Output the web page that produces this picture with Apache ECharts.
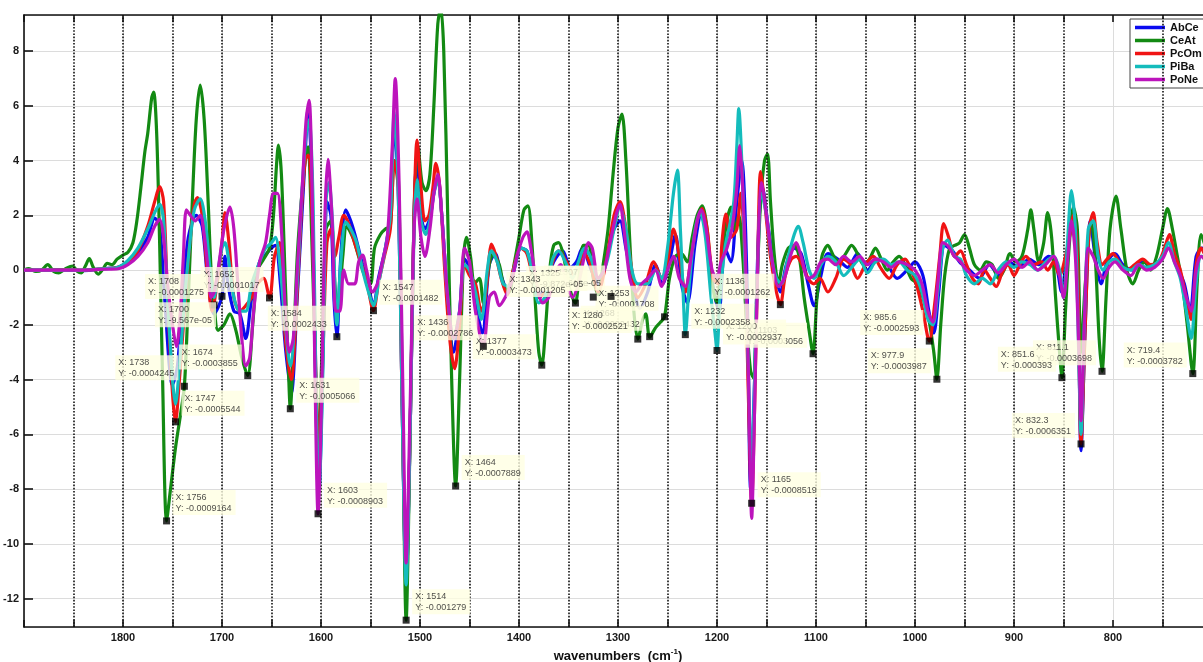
<!DOCTYPE html>
<html>
<head>
<meta charset="utf-8">
<script src="https://cdn.jsdelivr.net/npm/echarts@6/dist/echarts.min.js"></script>
<style>
  html, body { margin: 0; padding: 0; background: #fff; }
  #chart { width: 1203px; height: 662px; }
</style>
</head>
<body>
<div id="chart"></div>
<script>
// Second-derivative FTIR spectra (scaled by 1e4) for five samples.
const seriesNames = ['AbCe', 'CeAt', 'PcOm', 'PiBa', 'PoNe'];
const seriesColors = ['#0a0af0', '#138a13', '#f01414', '#14bcbc', '#bc14bc'];

// [wavenumber (cm-1), value x 1e4]
const AbCe = [[1900,0],[1880,0],[1860,0.02],[1840,-0.02],[1820,0.05],[1805,0.1],[1795,0.3],[1785,0.6],[1775,1.2],[1768,1.9],[1763,1.6],[1758,-1],[1750,-4.2],[1745,-3.5],[1740,-1],[1734,1.2],[1726,2.0],[1720,1.6],[1714,-0.5],[1708,-1.6],[1700,-0.9567],[1697,0.5],[1694,-0.5],[1688,-1.5],[1682,-1.6],[1676,-2.5],[1670,-1],[1662,0.3],[1655,0.6],[1650,0.8],[1646,0.9],[1641,-0.5],[1636,-2.8],[1630,-4.5],[1624,-1],[1617,3.5],[1613,5.9],[1609,3],[1605,-5],[1602,-8],[1598,-3],[1594,2.5],[1590,2],[1587,-1],[1584,-2.433],[1580,0.5],[1575,2.2],[1570,1.8],[1565,1.2],[1558,0.2],[1552,-0.6],[1547,-1.3],[1542,-0.3],[1535,0.8],[1530,2],[1526,5.3],[1522,3],[1518,-5],[1514,-11.5],[1510,-6],[1506,2],[1503,4.3],[1499,2],[1495,1.5],[1490,1.9],[1486,2.8],[1482,3.4],[1478,2],[1472,-1],[1466,-3],[1460,-1.5],[1455,0.4],[1450,0.1],[1444,-1.2],[1437,-2.3],[1430,0.2],[1424,0.6],[1418,-0.2],[1412,-0.7],[1405,0],[1398,0.8],[1392,0.7],[1386,-0.2],[1380,-0.9],[1374,-0.7],[1365,0.3],[1356,0.7],[1348,0.1],[1342,0.3],[1336,0.8],[1328,0.1],[1320,-0.5],[1312,0.4],[1304,1.5],[1298,1.8],[1292,0.8],[1285,-0.4],[1278,-1.4],[1270,-0.8],[1262,0.2],[1255,-0.5],[1248,0.3],[1242,1.3],[1236,-0.5],[1230,-1.2],[1222,1.0],[1216,2.0],[1210,1.2],[1204,-0.6],[1198,-1.5],[1192,0.8],[1186,0.3],[1180,2.5],[1175,4.0],[1170,0],[1166,-8.0],[1162,-4],[1158,1.5],[1154,3.0],[1148,1.5],[1142,0.1],[1136,-0.8],[1130,0.2],[1122,0.8],[1115,0.6],[1108,-0.5],[1102,-1.3],[1095,-0.2],[1088,0.6],[1078,0.4],[1068,0.1],[1058,0.6],[1048,0.0],[1038,0.4],[1028,0.2],[1018,-0.3],[1008,0.0],[1000,0.3],[992,-0.2],[986,-1.5],[981,-2.3],[976,-0.8],[970,0.9],[962,0.7],[955,0.3],[945,0.0],[935,-0.3],[925,0.2],[915,-0.2],[905,0.3],[895,0.1],[885,0.4],[875,0.2],[865,0.5],[858,0.3],[852,-0.8],[846,0.8],[840,2.0],[836,0.5],[832.3,-6.6],[828,-2],[823,1.8],[818,0.5],[812,-0.5],[806,0.3],[798,0.6],[790,0.2],[780,0.0],[770,0.3],[760,0.1],[750,0.5],[744,0.8],[736,0.2],[728,-0.5],[722,-1.5],[716,0.5],[710,0.8],[700,0.3]];

const CeAt = [[1900,0],[1895,0.05],[1888,-0.05],[1882,0.0],[1876,0.2],[1870,-0.05],[1865,-0.1],[1858,0.05],[1851,0.15],[1846,-0.05],[1842,-0.1],[1838,0.15],[1834,0.42],[1830,0.1],[1825,-0.15],[1820,0.05],[1816,0.25],[1811,0.2],[1806,0.4],[1800,0.55],[1795,0.65],[1790,1.0],[1786,1.8],[1782,3.0],[1778,4.3],[1775,5.0],[1771,6.3],[1769,6.5],[1766,5.0],[1763,1],[1760,-4],[1756,-9.164],[1752,-8],[1747,-6.5],[1742,-5.3],[1738,-4.245],[1734,-1],[1730,2.5],[1726,5.5],[1722,6.76],[1718,5.5],[1714,2.5],[1711,0],[1708,-1.275],[1704,-2.2],[1698,-2.0],[1692,-1.6],[1686,-2.2],[1680,-3.2],[1674,-3.855],[1669,-2],[1664,0],[1658,0.4],[1652,0.8],[1648,2.0],[1645,3.8],[1643,4.57],[1640,3.5],[1636,-0.5],[1633,-3.5],[1631,-5.066],[1628,-3],[1624,0.5],[1620,2.5],[1616,4.0],[1613,4.5],[1610,2],[1606,-3],[1603,-6.5],[1599,-3],[1595,1.5],[1590,1.8],[1586,-0.5],[1583,-1.5],[1578,0.5],[1574,1.6],[1568,1.2],[1562,0.5],[1556,-0.2],[1550,-0.5],[1546,0.8],[1540,1.3],[1535,1.5],[1530,1.6],[1526,4],[1522,3.5],[1518,-4],[1514,-12.79],[1510,-6],[1506,2],[1502,4.5],[1498,3.2],[1494,2.9],[1490,3.5],[1486,6],[1482,9],[1479,9.6],[1476,8],[1472,2],[1468,-4],[1464,-7.889],[1460,-4],[1456,0.5],[1453,1.2],[1449,0.5],[1445,-0.5],[1440,-0.3],[1436,-1.2],[1430,0.2],[1426,0.6],[1420,0.2],[1415,-0.6],[1410,-0.8],[1405,0.2],[1400,1.2],[1395,2.2],[1391,2.35],[1387,1.0],[1383,-1.5],[1380,-3],[1377,-3.473],[1373,-2],[1369,0],[1365,0.9],[1360,1.0],[1355,0.5],[1350,-0.5],[1346,-1.0],[1343,-1.205],[1340,-0.5],[1335,0.9],[1330,0.9],[1325,-0.3],[1320,-0.9],[1315,0.2],[1310,1.5],[1305,3.5],[1300,5.2],[1296,5.7],[1292,4.0],[1288,1.0],[1284,-1.5],[1280,-2.521],[1275,-1.8],[1272,-1.6],[1268,-2.45],[1262,-2.1],[1257,-1.9],[1253,-1.708],[1248,-0.3],[1242,0.5],[1236,0.6],[1230,0.3],[1225,1.2],[1220,2.0],[1215,2.35],[1210,1.5],[1205,-0.5],[1200,-1.2],[1195,0.5],[1190,1.8],[1186,2.3],[1182,1.5],[1178,2.0],[1174,0.5],[1170,-2],[1166,-3.7],[1163,-3.95],[1160,-1],[1156,2.5],[1152,4.0],[1149,4.25],[1146,2.5],[1142,0.5],[1138,-0.5],[1134,0.2],[1128,0.8],[1122,0.9],[1117,0.5],[1112,-1.0],[1107,-2.2],[1103,-3.056],[1099,-1],[1094,0.5],[1088,0.9],[1082,0.5],[1076,0.3],[1070,0.6],[1064,0.9],[1058,0.6],[1052,0.2],[1046,0.4],[1040,0.8],[1034,0.4],[1028,0.0],[1022,0.3],[1016,0.5],[1010,0.2],[1004,-0.3],[998,-0.5],[992,-1.0],[986,-1.8],[981,-3.0],[977.9,-3.987],[974,-2.0],[970,-0.2],[965,0.8],[960,0.9],[955,1.0],[950,1.3],[945,0.8],[940,0.2],[934,0.0],[928,0.3],[922,0.2],[916,-0.3],[910,0.0],[904,0.6],[898,0.3],[892,0.5],[886,1.5],[883,2.2],[880,1.5],[875,0.3],[870,1.0],[866,2.1],[862,1.2],[858,-1.0],[854,-3.0],[851.6,-3.93],[848,-1.5],[844,1.0],[840,2.3],[836,1.5],[832.3,-3],[828,-0.5],[822,1.8],[818,0.5],[814,-2.5],[811.1,-3.698],[807,-1],[803,1.5],[797,2.7],[792,1.5],[786,0.0],[780,-0.5],[774,0.0],[768,0.3],[762,0.0],[756,0.5],[750,1.5],[745,2.25],[740,1.5],[735,0.5],[730,-0.5],[725,-2.0],[719.4,-3.782],[715,-0.5],[711,1.3],[706,0.8],[700,0.3]];

const PcOm = [[1900,0],[1880,0],[1860,0.02],[1840,0],[1820,0.05],[1805,0.1],[1795,0.3],[1785,0.7],[1775,1.6],[1768,2.5],[1763,3.05],[1759,2.5],[1755,-1],[1750,-4.5],[1747,-5.544],[1743,-4],[1738,-1.5],[1733,0.8],[1728,2.4],[1725,2.65],[1720,2.0],[1715,0],[1710,-1.5],[1705,-0.5],[1700,1.0],[1697,2.1],[1693,1.0],[1688,-1.0],[1682,-1.5],[1676,-1.3],[1670,-1.0],[1664,-0.5],[1658,-0.3],[1652,-1.017],[1647,0.5],[1642,1.0],[1636,-2.5],[1630,-4],[1625,-1.5],[1620,2.0],[1616,4.0],[1613,4.2],[1609,2],[1605,-4],[1602,-7],[1598,-3],[1594,1.0],[1590,1.5],[1586,0.5],[1582,1.2],[1577,2.0],[1572,1.7],[1566,1.0],[1560,0.3],[1554,-0.4],[1547,-1.482],[1542,-0.5],[1536,0.5],[1530,1.5],[1526,4],[1522,3],[1518,-5],[1514,-11],[1510,-6],[1506,2],[1503,4.75],[1499,3],[1495,1.8],[1491,2.0],[1487,3.0],[1484,3.9],[1480,3],[1475,0],[1470,-2.5],[1465,-3.6],[1460,-2],[1455,0.2],[1450,-0.2],[1444,-0.5],[1438,-1.5],[1434,-1.0],[1430,0.5],[1428,0.95],[1424,0.6],[1418,-0.3],[1412,-0.9],[1406,0.0],[1398,0.8],[1392,0.6],[1386,-0.3],[1380,-1.0],[1374,-0.8],[1366,0.3],[1360,0.7],[1352,0.3],[1345,-0.2],[1340,0.2],[1334,0.6],[1328,0.2],[1320,-0.8],[1312,0.3],[1304,2.0],[1298,2.5],[1292,1.5],[1286,0.0],[1280,-1.0],[1272,-0.5],[1264,0.3],[1256,-0.3],[1250,0.3],[1244,1.5],[1238,0.5],[1232,-0.8],[1226,0.5],[1220,1.8],[1215,2.25],[1210,1.5],[1204,-0.3],[1198,-0.5],[1195,1.0],[1191,2.05],[1186,1.2],[1180,1.5],[1176,2.8],[1172,0.5],[1168,-5],[1165,-8.519],[1162,-5],[1159,0],[1156,3.6],[1152,2.5],[1146,0.5],[1140,-0.8],[1136,-1.262],[1131,-0.2],[1125,0.4],[1120,0.5],[1114,0.2],[1108,-0.3],[1102,-0.5],[1096,-0.3],[1088,-0.8],[1080,-0.3],[1072,0.4],[1065,0.2],[1058,-0.3],[1050,0.2],[1042,0.5],[1035,0.1],[1026,-0.3],[1018,0.2],[1010,0.4],[1004,0.0],[998,-0.6],[992,-1.5],[985.6,-2.593],[980,-1.2],[975,0.5],[971,1.7],[966,1.2],[960,0.5],[954,0.7],[948,0.2],[942,-0.3],[936,-0.5],[930,0.0],[924,-0.3],[918,-0.6],[912,-0.1],[906,0.2],[900,-0.2],[894,0.2],[888,0.5],[880,0.2],[872,0.3],[866,0.0],[860,0.3],[854,-0.2],[848,0.5],[844,1.2],[840,2.0],[836,0.5],[832.3,-6.351],[828,-2],[824,1.5],[820,2.1],[816,1.0],[811,0.2],[806,0.4],[800,0.6],[794,0.3],[786,0.0],[778,0.2],[770,0.4],[762,0.2],[754,0.3],[748,0.8],[743,1.3],[738,0.6],[732,0.0],[726,-1.0],[721,-1.8],[716,0.2],[711,0.8],[705,0.4],[700,0.2]];

const PiBa = [[1900,0],[1880,0],[1860,0],[1840,0],[1820,0.05],[1805,0.1],[1795,0.35],[1785,0.8],[1775,1.5],[1768,2.1],[1763,2.4],[1759,1.8],[1755,-1],[1750,-4],[1747,-4.9],[1743,-3.5],[1738,-1.2],[1733,0.8],[1728,2.2],[1722,2.6],[1717,1.8],[1712,0.0],[1708,-1.0],[1704,0.0],[1700,0.8],[1697,1.0],[1693,0.3],[1688,-1.0],[1682,-1.5],[1676,-1.5],[1670,-0.5],[1662,0.3],[1656,0.8],[1650,1.0],[1646,1.2],[1641,0.0],[1636,-2.0],[1631,-3.5],[1625,-1.0],[1619,3.0],[1615,5.0],[1612,5.5],[1608,2.5],[1605,-4.5],[1602,-8.0],[1598,-3.5],[1595,2.5],[1592,3.2],[1588,1.5],[1584,-2.0],[1580,0.3],[1575,1.75],[1570,1.5],[1564,1.0],[1558,0.0],[1552,-0.8],[1547,-1.3],[1542,-0.5],[1536,0.6],[1530,2.0],[1526,5.8],[1522,3],[1518,-5],[1514,-11.5],[1510,-6],[1506,1.5],[1503,3.3],[1499,1.8],[1494,1.3],[1490,1.8],[1486,2.8],[1482,3.3],[1478,2],[1472,-1],[1466,-2.5],[1460,-1.5],[1455,0.2],[1450,0.0],[1444,-0.8],[1438,-1.8],[1432,0.0],[1428,0.7],[1422,0.3],[1416,-0.5],[1410,-0.6],[1404,0.2],[1398,0.8],[1392,0.7],[1386,-0.2],[1380,-1.2],[1374,-1.0],[1366,0.4],[1360,0.7],[1352,0.2],[1346,-0.3],[1340,0.3],[1334,0.8],[1328,0.5],[1320,-0.3],[1312,0.2],[1304,1.5],[1298,2.3],[1292,1.5],[1286,0.0],[1280,-0.5],[1270,-0.5],[1262,0.0],[1256,-0.3],[1250,0.8],[1244,2.8],[1240,3.65],[1237,1.5],[1234,-1.0],[1232,-2.358],[1228,-0.5],[1222,1.5],[1217,2.1],[1212,1.3],[1206,-1.0],[1202,-2.3],[1200,-2.937],[1197,-1.0],[1192,0.8],[1188,1.5],[1183,2.5],[1180,4.5],[1178,5.9],[1175,4.0],[1172,0.5],[1168,-4],[1165,-7.5],[1162,-4],[1159,0],[1155,2.8],[1150,2.0],[1145,0.5],[1140,-0.3],[1135,-0.5],[1128,0.5],[1122,1.3],[1118,1.6],[1113,1.0],[1107,0.0],[1102,-0.3],[1095,0.2],[1088,0.5],[1080,0.3],[1072,-0.2],[1064,0.1],[1056,0.4],[1048,-0.1],[1040,0.3],[1032,0.4],[1024,0.2],[1016,0.3],[1008,0.0],[1000,-0.2],[993,-0.8],[987,-1.8],[982,-2.0],[977,-0.8],[972,0.8],[967,1.1],[960,0.5],[954,0.4],[948,-0.2],[940,-0.5],[932,-0.3],[924,-0.5],[916,0.0],[908,0.3],[900,0.1],[892,0.3],[884,0.2],[876,0.0],[868,0.3],[860,0.5],[854,0.0],[850,-1.0],[846,1.0],[842,2.9],[838,1.5],[834,-4],[832.3,-6.0],[829,-2],[825,1.5],[820,1.8],[815,0.5],[810,0.0],[804,0.3],[798,0.4],[790,0.1],[782,0.0],[774,0.2],[766,0.1],[758,0.2],[750,0.5],[744,1.0],[738,0.3],[732,-0.3],[726,-1.5],[721,-2.5],[716,-0.5],[711,0.5],[705,0.4],[700,0.2]];

const PoNe = [[1900,0],[1880,0],[1860,0],[1840,0],[1820,0.03],[1805,0.05],[1795,0.2],[1785,0.5],[1775,1.0],[1768,1.6],[1763,1.85],[1759,1.2],[1755,-0.5],[1750,-2.0],[1746,-2.8],[1742,-1.5],[1739,0.5],[1736,2.2],[1732,2.0],[1727,1.8],[1722,2.0],[1718,1.3],[1714,0.0],[1711,-1.0],[1708,-0.8],[1704,0.0],[1698,1.5],[1692,2.3],[1688,1.5],[1684,-0.5],[1680,-2.5],[1676,-3.5],[1672,-3.2],[1668,-1.5],[1662,0.3],[1656,1.0],[1652,2.0],[1648,2.8],[1644,2.8],[1640,1.5],[1636,-1.5],[1632,-3.0],[1628,-2.5],[1624,0.0],[1619,3.0],[1615,5.5],[1612,6.2],[1609,3],[1606,-4],[1603,-8.903],[1599,-4],[1596,2.0],[1593,4.05],[1589,2.0],[1585,-1.5],[1581,-1.5],[1577,0.0],[1572,-0.5],[1566,-0.5],[1562,0.3],[1558,0.55],[1554,0.0],[1548,-0.8],[1543,-0.5],[1538,0.3],[1533,1.2],[1528,4.5],[1525,7.0],[1521,3],[1517,-5],[1514,-10.7],[1510,-5],[1506,1.5],[1503,2.6],[1499,1.2],[1495,0.5],[1490,1.5],[1486,2.8],[1482,3.5],[1478,2.0],[1472,-1],[1466,-2.5],[1460,-1.5],[1455,0.8],[1450,0.3],[1444,-1.5],[1436,-2.786],[1430,-1.0],[1425,-0.8],[1420,-1.3],[1414,-1.0],[1408,-0.5],[1402,0.5],[1396,1.2],[1392,1.4],[1388,0.8],[1382,-0.5],[1376,-1.2],[1370,-1.0],[1364,-0.2],[1358,0.2],[1352,-0.5],[1346,-1.0],[1340,-0.5],[1334,0.5],[1330,1.0],[1326,0.8],[1320,-0.3],[1314,0.0],[1308,1.0],[1302,2.0],[1298,2.4],[1294,1.5],[1288,-0.3],[1282,-0.8],[1276,-0.5],[1270,-0.3],[1262,0.0],[1256,-0.6],[1250,0.0],[1244,0.5],[1238,-0.3],[1232,-0.6],[1226,0.5],[1220,1.8],[1216,2.2],[1211,1.5],[1205,0.0],[1200,-0.3],[1196,0.3],[1190,0.8],[1185,1.5],[1180,3.0],[1177,4.55],[1174,3.0],[1170,-1.0],[1167,-6],[1165,-9.07],[1162,-5],[1159,0],[1155,3.2],[1150,2.0],[1144,0.3],[1138,-0.6],[1132,-0.3],[1126,0.5],[1120,1.0],[1115,0.5],[1108,-0.3],[1102,-0.2],[1095,0.3],[1088,0.4],[1080,0.2],[1072,0.5],[1064,0.3],[1056,0.5],[1048,0.2],[1040,0.4],[1032,0.3],[1024,0.1],[1016,0.3],[1008,0.2],[1000,0.0],[993,-0.5],[987,-1.5],[982,-1.9],[977,-0.5],[972,1.0],[967,0.9],[960,0.5],[954,0.3],[948,0.0],[940,-0.2],[932,0.0],[924,0.2],[916,-0.1],[908,0.2],[900,0.4],[892,0.1],[884,0.3],[876,0.0],[868,0.2],[860,0.5],[854,-0.2],[850,-1.0],[846,0.3],[842,1.8],[838,0.5],[834,-3.5],[832.3,-5.5],[829,-2],[825,0.8],[820,0.5],[815,0.0],[810,-0.3],[804,0.1],[798,0.3],[790,0.0],[782,-0.2],[774,0.2],[766,0.0],[758,0.1],[750,0.4],[744,0.8],[738,0.3],[732,-0.2],[726,-1.0],[721,-1.5],[716,0.0],[711,0.5],[705,0.3],[700,0.1]];

const seriesData = [AbCe, CeAt, PcOm, PiBa, PoNe];

// Data cursors: wavenumber and raw second-derivative value (unscaled)
const tipX = [1652, 1708, 1700, 1738, 1674, 1747, 1756, 1584, 1631, 1603, 1547, 1514, 1464, 1377, 1436, 1253, 1307, 1325, 1343, 1268, 1280, 1103, 1200, 1232, 1136, 1165, 985.6, 977.9, 811.1, 851.6, 832.3, 719.4];
const tipY = [-0.0001017, -0.0001275, -9.567e-05, -0.0004245, -0.0003855, -0.0005544, -0.0009164, -0.0002433, -0.0005066, -0.0008903, -0.0001482, -0.001279, -0.0007889, -0.0003473, -0.0002786, -0.0001708, -9.613e-05, -9.872e-05, -0.0001205, -0.0002432, -0.0002521, -0.0003056, -0.0002937, -0.0002358, -0.0001262, -0.0008519, -0.0002593, -0.0003987, -0.0003698, -0.000393, -0.0006351, -0.0003782];
// Which corner of the cursor each box sits on (u/l = up/low, l/r = left/right)
const tipSide = ['ul', 'ul', 'll', 'ul', 'ul', 'ur', 'ur', 'ul', 'ur', 'ur', 'ur', 'ur', 'ur', 'ul', 'ul', 'ul', 'ul', 'ul', 'ul', 'ul', 'ul', 'ul', 'ur', 'ur', 'ul', 'ur', 'ul', 'ul', 'ul', 'ul', 'ul', 'ul'];
// Stacking order of the cursor boxes (higher sits on top)
const tipLayer = [0, 3, 3, 3, 3, 3, 3, 3, 3, 3, 3, 3, 3, 0, 3, 0, 1, 2, 3, 0, 3, 0, 1, 3, 3, 3, 3, 3, 0, 3, 3, 3];

// Dotted reference lines every 50 cm-1
const dottedGuides = [1850, 1800, 1750, 1700, 1650, 1600, 1550, 1500, 1450, 1400, 1350, 1300, 1250, 1200, 1150, 1100, 1050, 1000, 950, 900, 850, 750];

const Y_SCALE = 1e4;

// MATLAB-style %.4g formatting
function fmt4g(v) {
  if (v === 0) return '0';
  const e = Math.floor(Math.log10(Math.abs(v)));
  if (e < -4 || e >= 4) {
    let [m, ex] = v.toExponential(3).split('e');
    m = m.replace(/\.?0+$/, '');
    const n = parseInt(ex, 10);
    const sign = n < 0 ? '-' : '+';
    const digits = String(Math.abs(n)).padStart(2, '0');
    return m + 'e' + sign + digits;
  }
  let s = v.toPrecision(4);
  if (s.indexOf('.') >= 0) s = s.replace(/\.?0+$/, '');
  return s;
}

const FONT = '"Liberation Sans", Arial, Helvetica, sans-serif';

function tipItem(i) {
  const side = tipSide[i];
  const up = side[0] === 'u';
  const right = side[1] === 'r';
  return {
    value: [tipX[i], tipY[i] * Y_SCALE],
    tipIndex: i,
    label: {
      position: [right ? 9.5 : -2.5, up ? -2.5 : 9.5],
      align: right ? 'left' : 'right',
      verticalAlign: up ? 'bottom' : 'top'
    }
  };
}

const cursorSeries = [0, 1, 2, 3].map(layer => ({
  name: 'cursors' + layer,
  type: 'scatter',
  data: tipX.map((x, i) => i).filter(i => tipLayer[i] === layer).map(tipItem),
  symbol: 'rect',
  symbolSize: 7,
  z: 20 + layer,
  silent: true,
  itemStyle: { color: '#000' },
  label: {
    show: true,
    formatter: p => {
      const i = p.data.tipIndex;
      return '{t|X: ' + fmt4g(tipX[i]) + '}\n{t|Y: ' + fmt4g(tipY[i]) + '}';
    },
    backgroundColor: 'rgba(255,255,226,0.97)',
    padding: [2, 4, 1, 3],
    rich: {
      t: { fontFamily: FONT, fontSize: 9, lineHeight: 11, color: '#222', align: 'left' }
    }
  },
  labelLayout: { hideOverlap: false }
}));

const lineSeries = seriesNames.map((name, i) => ({
  name: name,
  type: 'line',
  data: seriesData[i],
  showSymbol: false,
  smooth: 0.3,
  z: 3 + i,
  lineStyle: { color: seriesColors[i], width: 3.2 },
  itemStyle: { color: seriesColors[i] },
  emphasis: { disabled: true }
}));

const chart = echarts.init(document.getElementById('chart'), null, { renderer: 'canvas' });

const axisLineStyle = { color: '#111', width: 1.6 };

chart.setOption({
  animation: false,
  backgroundColor: '#fff',
  grid: { left: 24, top: 15, right: -9, bottom: 35, containLabel: false, outerBoundsMode: 'none' },
  legend: {
    data: seriesNames,
    orient: 'vertical',
    left: 1130,
    top: 19,
    icon: 'rect',
    itemWidth: 30,
    itemHeight: 3.5,
    itemGap: 2,
    padding: [3, 14, 3, 5],
    backgroundColor: '#fff',
    borderColor: '#444',
    borderWidth: 1,
    textStyle: { fontFamily: FONT, fontWeight: 'bold', fontSize: 11, color: '#111' },
    selectedMode: false
  },
  xAxis: [{
    type: 'value',
    inverse: true,
    min: 700,
    max: 1900,
    interval: 100,
    position: 'bottom',
    name: '{a|wavenumbers  (cm}{s|-1}{a|)}',
    nameLocation: 'middle',
    nameGap: 21,
    nameTextStyle: {
      rich: {
        a: { fontFamily: FONT, fontWeight: 'bold', fontSize: 13, color: '#111' },
        s: { fontFamily: FONT, fontWeight: 'bold', fontSize: 8, color: '#111', padding: [0, 0, 8, 0] }
      }
    },
    axisLine: { show: true, onZero: false, lineStyle: axisLineStyle },
    axisTick: { show: true, inside: true, length: 7, lineStyle: axisLineStyle },
    minorTick: { show: true, splitNumber: 2, length: 7, lineStyle: axisLineStyle },
    axisLabel: {
      fontFamily: FONT, fontWeight: 'bold', fontSize: 11, color: '#1a1a1a', margin: 5,
      showMaxLabel: false, showMinLabel: false,
      formatter: v => String(v)
    },
    splitLine: { show: true, lineStyle: { color: '#dcdcdc', width: 1 } }
  }, {
    type: 'value',
    inverse: true,
    min: 700,
    max: 1900,
    interval: 100,
    position: 'top',
    axisLine: { show: true, onZero: false, lineStyle: axisLineStyle },
    axisTick: { show: true, inside: true, length: 7, lineStyle: axisLineStyle },
    minorTick: { show: true, splitNumber: 2, length: 7, lineStyle: axisLineStyle },
    axisLabel: { show: false },
    splitLine: { show: false }
  }],
  yAxis: [{
    type: 'value',
    min: -13.04,
    max: 9.32,
    splitNumber: 11,
    minInterval: 2,
    maxInterval: 2,
    position: 'left',
    axisLine: { show: true, onZero: false, lineStyle: axisLineStyle },
    axisTick: { show: true, inside: true, length: 9, lineStyle: axisLineStyle },
    axisLabel: {
      fontFamily: FONT, fontWeight: 'bold', fontSize: 11, color: '#1a1a1a', margin: 5,
      showMinLabel: false, showMaxLabel: false,
      formatter: v => String(v)
    },
    splitLine: { show: true, lineStyle: { color: '#dcdcdc', width: 1 } }
  }, {
    type: 'value',
    min: -13.04,
    max: 9.32,
    splitNumber: 11,
    minInterval: 2,
    maxInterval: 2,
    position: 'right',
    axisLine: { show: true, onZero: false, lineStyle: axisLineStyle },
    axisTick: { show: true, inside: true, length: 9, lineStyle: axisLineStyle },
    axisLabel: { show: false },
    splitLine: { show: false }
  }],
  series: [{
    name: 'guides',
    type: 'line',
    data: [[1900, 0]],
    showSymbol: false,
    silent: true,
    z: 1,
    lineStyle: { opacity: 0 },
    markLine: {
      silent: true,
      symbol: ['none', 'none'],
      label: { show: false },
      lineStyle: { color: '#111', width: 1.6, type: [1.6, 1.6] },
      data: dottedGuides.map(v => ({ xAxis: v }))
    }
  }].concat(lineSeries).concat(cursorSeries)
});
</script>
</body>
</html>
